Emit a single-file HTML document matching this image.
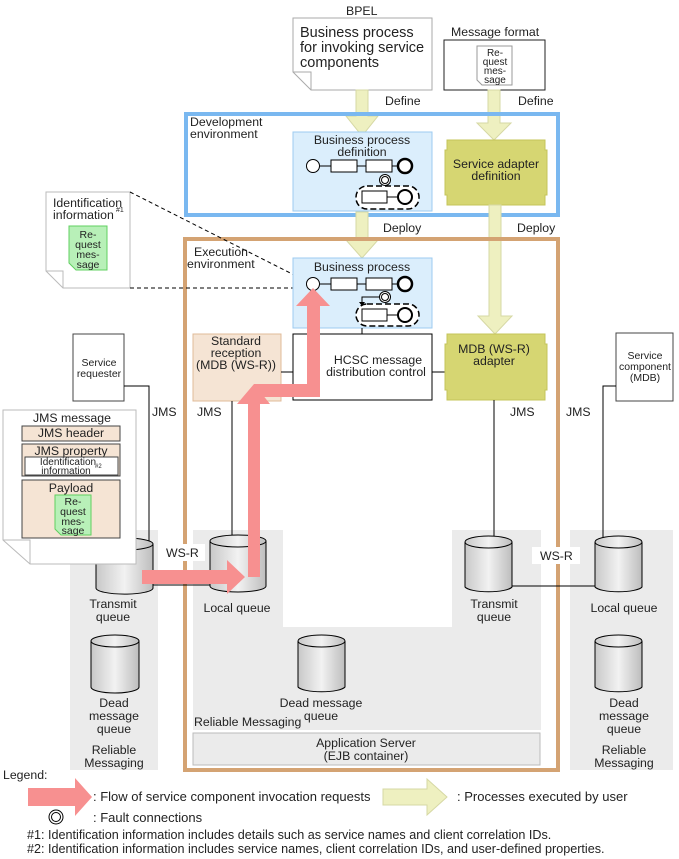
<!DOCTYPE html>
<html><head><meta charset="utf-8"><style>
body{margin:0;background:#fff}
svg{display:block}
text{font-family:"Liberation Sans",Arial,sans-serif;fill:#222}
</style></head><body>
<svg width="679" height="859" viewBox="0 0 679 859" xmlns="http://www.w3.org/2000/svg">
<defs>
<linearGradient id="cg" x1="0" x2="1" y1="0" y2="0">
<stop offset="0" stop-color="#c8c8c8"/><stop offset="0.5" stop-color="#f2f2f2"/><stop offset="1" stop-color="#bdbdbd"/>
</linearGradient>
</defs>
<g font-size="12.3">
<rect x="70" y="530" width="88" height="240" fill="#ebebeb"/>
<path d="M193 530 H283 V627 H452 V530 H541 V730 H193 Z" fill="#ebebeb"/>
<rect x="570" y="530" width="103" height="240" fill="#ebebeb"/>

<text x="346" y="15">BPEL</text>
<path d="M293 18 H432 V90 H311 L293 72 Z" fill="#fff" stroke="#aaa"/>
<path d="M293 72 H311 V90" fill="none" stroke="#aaa"/>
<text x="300" y="37" font-size="14.5">Business process</text>
<text x="300" y="52" font-size="14.5">for invoking service</text>
<text x="300" y="67" font-size="14.5">components</text>

<text x="451" y="36">Message format</text>
<rect x="444" y="40" width="101" height="50" fill="#fff" stroke="#222"/>
<path d="M477 46 H512 V85 H482 L477 80 Z" fill="#fff" stroke="#999"/>
<text x="495" y="56" font-size="10" text-anchor="middle">Re-</text>
<text x="495" y="65" font-size="10" text-anchor="middle">quest</text>
<text x="495" y="74" font-size="10" text-anchor="middle">mes-</text>
<text x="495" y="83" font-size="10" text-anchor="middle">sage</text>

<path d="M356 90 H368 V116 H378 L362 136 L346 116 H356 Z" fill="#eef0c0" stroke="#d6d8a4"/>
<path d="M488 90 H500 V123 H511 L494 140 L477 123 H488 Z" fill="#eef0c0" stroke="#d6d8a4"/>
<text x="385" y="105">Define</text>
<text x="518" y="105">Define</text>

<rect x="186" y="114" width="372" height="101" fill="none" stroke="#7ab8f0" stroke-width="4"/>
<text x="190" y="126">Development</text>
<text x="190" y="138">environment</text>
<rect x="293" y="132" width="139" height="79" fill="#dbeefc" stroke="#9ccbf0"/>
<text x="362" y="144" text-anchor="middle">Business process</text>
<text x="362" y="156" text-anchor="middle">definition</text>
<g stroke="#000" fill="#fff">
<line x1="312" y1="166" x2="404" y2="166"/>
<circle cx="313" cy="166" r="6.5"/>
<rect x="331" y="160" width="26" height="12"/>
<rect x="366" y="160" width="26" height="12"/>
<circle cx="405" cy="166" r="7" stroke-width="2.5"/>
<circle cx="385" cy="180" r="5.5"/><circle cx="385" cy="180" r="3.5"/>
<rect x="356" y="186" width="63" height="23" rx="11" stroke-width="1.5" stroke-dasharray="6,3"/>
<line x1="387" y1="197" x2="405" y2="197"/>
<rect x="362" y="191" width="25" height="12"/>
<circle cx="405" cy="197" r="7" stroke-width="2"/>
</g>
<path d="M447 140 H545 V150 H547 V195 H545 V205 H447 V195 H445 V150 H447 Z" fill="#d6d672" stroke="#c4c45a"/>
<text x="496" y="168" text-anchor="middle">Service adapter</text>
<text x="496" y="180" text-anchor="middle">definition</text>

<path d="M356 212 H368 V240 H378 L362 258 L346 240 H356 Z" fill="#eef0c0" stroke="#d6d8a4"/>
<path d="M489 205 H501 V316 H512 L495 334 L478 316 H489 Z" fill="#eef0c0" stroke="#d6d8a4"/>
<text x="383" y="232">Deploy</text>
<text x="517" y="232">Deploy</text>

<rect x="185" y="239" width="373" height="531" fill="none" stroke="#d4a373" stroke-width="4"/>
<text x="194" y="256">Execution</text>
<text x="187" y="268">environment</text>

<path d="M46 192 H130 V288 H63 L46 271 Z" fill="#fff" stroke="#bbb"/>
<path d="M46 271 H63 V288" fill="none" stroke="#bbb"/>
<text x="53" y="207">Identification</text>
<text x="53" y="219">information</text><text x="116" y="212" font-size="7">#1</text>
<path d="M69 226 H107 V270 H76 L69 263 Z" fill="#b8f0b8" stroke="#60d060"/>
<text x="88" y="238" font-size="10.5" text-anchor="middle">Re-</text>
<text x="88" y="248" font-size="10.5" text-anchor="middle">quest</text>
<text x="88" y="258" font-size="10.5" text-anchor="middle">mes-</text>
<text x="88" y="268" font-size="10.5" text-anchor="middle">sage</text>
<line x1="130" y1="192" x2="312" y2="284" stroke="#000" stroke-dasharray="4,3"/>
<line x1="130" y1="288" x2="306" y2="288" stroke="#000" stroke-dasharray="4,3"/>

<rect x="293" y="258" width="139" height="70" fill="#dbeefc" stroke="#9ccbf0"/>
<text x="362" y="271" text-anchor="middle">Business process</text>
<g stroke="#000" fill="#fff">
<line x1="312" y1="284" x2="404" y2="284"/>
<circle cx="313" cy="284" r="6.5"/>
<rect x="331" y="278" width="26" height="12"/>
<rect x="366" y="278" width="26" height="12"/>
<circle cx="405" cy="284" r="7" stroke-width="2.5"/>
<circle cx="385" cy="297" r="5.5"/><circle cx="385" cy="297" r="3.5"/>
<path d="M379 297 H362 V304" fill="none"/>
<rect x="356" y="304" width="63" height="22" rx="11" stroke-width="1.5" stroke-dasharray="6,3"/>
<line x1="387" y1="315" x2="405" y2="315"/>
<rect x="362" y="309" width="25" height="12"/>
<circle cx="405" cy="315" r="7" stroke-width="2"/>
</g>
<path d="M359 302 L365 302 L362 306 Z" fill="#000"/>
<line x1="362" y1="328" x2="362" y2="334" stroke="#000"/>

<rect x="193" y="334" width="88" height="67" fill="#f5e4d4" stroke="#e0bb98"/>
<text x="236" y="345" text-anchor="middle">Standard</text>
<text x="236" y="357" text-anchor="middle">reception</text>
<text x="236" y="369" text-anchor="middle">(MDB (WS-R))</text>
<line x1="281" y1="372" x2="293" y2="372" stroke="#000"/>
<rect x="293" y="334" width="139" height="66" fill="#fff" stroke="#000"/>
<text x="378" y="364" text-anchor="middle">HCSC message</text>
<text x="376" y="376" text-anchor="middle">distribution control</text>
<line x1="432" y1="372" x2="445" y2="372" stroke="#000"/>
<path d="M447 334 H545 V344 H547 V390 H545 V400 H447 V390 H445 V344 H447 Z" fill="#d6d672" stroke="#c4c45a"/>
<text x="494" y="353" text-anchor="middle">MDB (WS-R)</text>
<text x="494" y="365" text-anchor="middle">adapter</text>

<rect x="73" y="334" width="51" height="67" fill="#fff" stroke="#444"/>
<text x="99" y="366" text-anchor="middle" font-size="10.5">Service</text>
<text x="99" y="377" text-anchor="middle" font-size="10.5">requester</text>
<rect x="616" y="333" width="57" height="68" fill="#fff" stroke="#444"/>
<text x="645" y="359" text-anchor="middle" font-size="10.5">Service</text>
<text x="645" y="370" text-anchor="middle" font-size="10.5">component</text>
<text x="645" y="381" text-anchor="middle" font-size="10.5">(MDB)</text>

<g stroke="#000" fill="none">
<path d="M124 386 H149 V560"/>
<line x1="232" y1="401" x2="232" y2="540"/>
<line x1="494" y1="400" x2="494" y2="540"/>
<path d="M616 386 H603 V540"/>
<line x1="140" y1="585" x2="215" y2="585"/>
<line x1="512" y1="586" x2="596" y2="586"/>
</g>
<text x="152" y="416">JMS</text>
<text x="197" y="416">JMS</text>
<text x="510" y="416">JMS</text>
<text x="566" y="416">JMS</text>

<g stroke="#000" fill="url(#cg)">
<path d="M96 544 V588 A28 6 0 0 0 153 588 V544"/><ellipse cx="124.5" cy="544" rx="28.5" ry="6"/>
<path d="M210 541 V586 A28 6 0 0 0 266 586 V541"/><ellipse cx="238" cy="541" rx="28" ry="6"/>
<path d="M465 542 V587 A24 6 0 0 0 512 587 V542"/><ellipse cx="488.5" cy="542" rx="23.5" ry="6"/>
<path d="M595 542 V587 A24 6 0 0 0 642 587 V542"/><ellipse cx="618.5" cy="542" rx="23.5" ry="6"/>
<path d="M91 641 V687 A24 6 0 0 0 139 687 V641"/><ellipse cx="115" cy="641" rx="24" ry="6"/>
<path d="M298 641 V687 A24 6 0 0 0 345 687 V641"/><ellipse cx="321.5" cy="641" rx="23.5" ry="6"/>
<path d="M595 641 V687 A24 6 0 0 0 642 687 V641"/><ellipse cx="618.5" cy="641" rx="23.5" ry="6"/>
</g>
<text x="113" y="608" text-anchor="middle">Transmit</text>
<text x="113" y="621" text-anchor="middle">queue</text>
<text x="237" y="612" text-anchor="middle">Local queue</text>
<text x="494" y="608" text-anchor="middle">Transmit</text>
<text x="494" y="621" text-anchor="middle">queue</text>
<text x="624" y="612" text-anchor="middle">Local queue</text>
<text x="114" y="707" text-anchor="middle">Dead</text>
<text x="114" y="720" text-anchor="middle">message</text>
<text x="114" y="733" text-anchor="middle">queue</text>
<text x="114" y="754" text-anchor="middle">Reliable</text>
<text x="114" y="767" text-anchor="middle">Messaging</text>
<text x="321" y="707" text-anchor="middle">Dead message</text>
<text x="321" y="720" text-anchor="middle">queue</text>
<text x="194" y="726">Reliable Messaging</text>
<text x="624" y="707" text-anchor="middle">Dead</text>
<text x="624" y="720" text-anchor="middle">message</text>
<text x="624" y="733" text-anchor="middle">queue</text>
<text x="624" y="754" text-anchor="middle">Reliable</text>
<text x="624" y="767" text-anchor="middle">Messaging</text>

<rect x="193" y="733" width="347" height="32" fill="#ebebeb" stroke="#bbb"/>
<text x="366" y="747" text-anchor="middle">Application Server</text>
<text x="366" y="760" text-anchor="middle">(EJB container)</text>

<rect x="160" y="544" width="45" height="17" fill="#fff"/>
<text x="166" y="557">WS-R</text>
<rect x="532" y="547" width="48" height="17" fill="#fff"/>
<text x="540" y="560">WS-R</text>

<path d="M3 410 H136 V564 H30 L3 540 Z" fill="#fff" stroke="#bbb"/>
<path d="M3 540 H30 V564" fill="none" stroke="#bbb"/>
<text x="72" y="422" text-anchor="middle">JMS message</text>
<rect x="22" y="426" width="98" height="15" fill="#f5e4d4" stroke="#444"/>
<text x="71" y="437" text-anchor="middle">JMS header</text>
<rect x="22" y="444" width="98" height="32" fill="#f5e4d4" stroke="#444"/>
<text x="71" y="455" text-anchor="middle">JMS property</text>
<rect x="25" y="457" width="93" height="18" fill="#fff" stroke="#444"/>
<text x="68" y="465" font-size="10" text-anchor="middle">Identification</text>
<text x="66" y="474" font-size="10" text-anchor="middle">information</text><text x="95" y="468" font-size="6">#2</text>
<rect x="22" y="480" width="98" height="58" fill="#f5e4d4" stroke="#444"/>
<text x="71" y="492" text-anchor="middle">Payload</text>
<path d="M55 495 H91 V535 H61 L55 529 Z" fill="#b8f0b8" stroke="#60d060"/>
<text x="73" y="505" font-size="10.5" text-anchor="middle">Re-</text>
<text x="73" y="515" font-size="10.5" text-anchor="middle">quest</text>
<text x="73" y="525" font-size="10.5" text-anchor="middle">mes-</text>
<text x="73" y="534" font-size="10.5" text-anchor="middle">sage</text>

<g fill="#f79090">
<path d="M142 570 H227 V560 L245 577 L227 594 V584 H142 Z"/>
<path d="M248 577 V404 H237 L254 384 L270 404 H260 V577 Z"/>
<path d="M254 384 H307 V306 H296 L313 288 L330 306 H320 V397 H254 Z"/>
</g>

<text x="3" y="779">Legend:</text>
<path d="M28 788 H75 V778 L92 797 L75 816 V806 H28 Z" fill="#f79090"/>
<text x="93" y="801" font-size="13">: Flow of service component invocation requests</text>
<path d="M383 789 H427 V779 L447 797 L427 815 V805 H383 Z" fill="#eef0c0" stroke="#d6d8a4"/>
<text x="457" y="801" font-size="13">: Processes executed by user</text>
<circle cx="56" cy="817" r="7" fill="#fff" stroke="#000"/>
<circle cx="56" cy="817" r="4.5" fill="#fff" stroke="#000"/>
<text x="93" y="822" font-size="13">: Fault connections</text>
<text x="27" y="839" font-size="12.6">#1: Identification information includes details such as service names and client correlation IDs.</text>
<text x="27" y="853" font-size="12.6">#2: Identification information includes service names, client correlation IDs, and user-defined properties.</text>
</g>
</svg>
</body></html>
